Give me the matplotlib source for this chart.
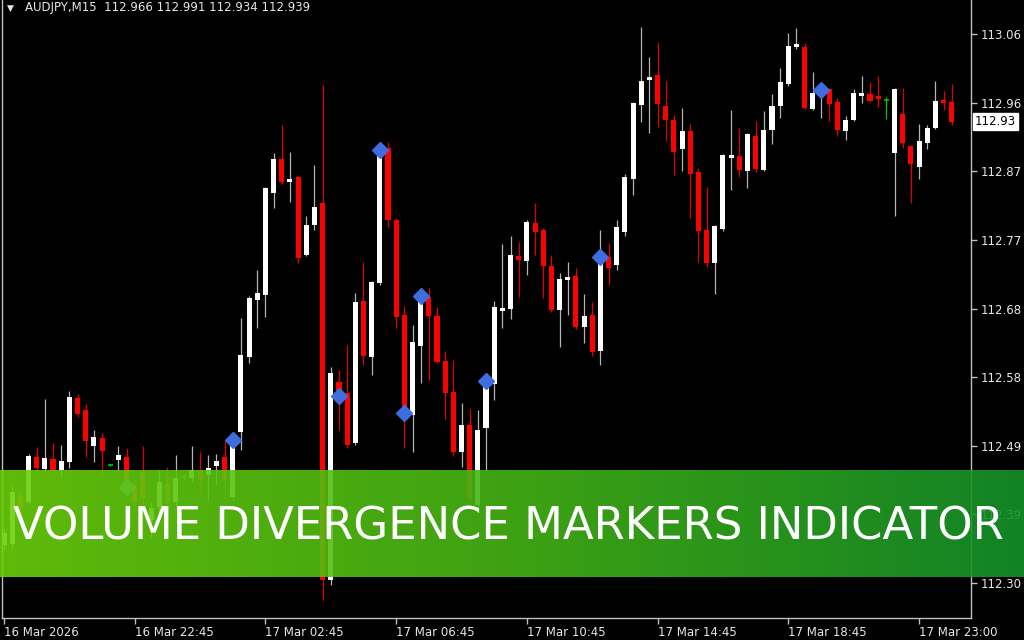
#!/usr/bin/env python3
"""
AUDJPY M15 candlestick chart with volume divergence markers,
styled like a MetaTrader window, with a title banner on top.
"""

import numpy as np
import matplotlib
matplotlib.use("Agg")
import matplotlib.pyplot as plt
import matplotlib.transforms as mtransforms
from matplotlib.colors import LinearSegmentedColormap

symbol = "AUDJPY,M15"

# OHLC per 15-minute bar
opens = [112.353, 112.354, 112.422, 112.412, 112.475, 112.458, 112.472, 112.457, 112.468, 112.556,
         112.540, 112.490, 112.501, 112.463, 112.470, 112.475, 112.436, 112.454, 112.387, 112.405,
         112.439, 112.412, 112.447, 112.445, 112.457, 112.450, 112.462, 112.475, 112.419, 112.509,
         112.613, 112.692, 112.699, 112.840, 112.887, 112.855, 112.862, 112.754, 112.796, 112.826,
         112.304, 112.578, 112.563, 112.494, 112.691, 112.613, 112.716, 112.902, 112.803, 112.671,
         112.533, 112.628, 112.696, 112.670, 112.607, 112.565, 112.481, 112.519, 112.408, 112.515,
         112.576, 112.677, 112.680, 112.753, 112.746, 112.799, 112.789, 112.739, 112.678, 112.720,
         112.725, 112.655, 112.671, 112.621, 112.752, 112.740, 112.786, 112.860, 112.962, 112.997,
         113.004, 112.961, 112.941, 112.901, 112.926, 112.869, 112.789, 112.743, 112.790, 112.889,
         112.891, 112.871, 112.919, 112.872, 112.927, 112.961, 112.991, 113.042, 113.042, 112.957,
         112.976, 112.984, 112.966, 112.926, 112.941, 112.975, 112.977, 112.975, 112.969, 112.896,
         112.950, 112.905, 112.876, 112.909, 112.930, 112.969, 112.966]
highs = [112.376, 112.436, 112.429, 112.479, 112.488, 112.555, 112.494, 112.491, 112.566, 112.562,
         112.548, 112.512, 112.508, 112.465, 112.490, 112.487, 112.443, 112.490, 112.412, 112.457,
         112.461, 112.477, 112.451, 112.490, 112.481, 112.477, 112.479, 112.498, 112.501, 112.667,
         112.698, 112.734, 112.849, 112.896, 112.934, 112.897, 112.864, 112.808, 112.879, 112.990,
         112.599, 112.595, 112.630, 112.702, 112.745, 112.718, 112.902, 112.911, 112.806, 112.684,
         112.657, 112.700, 112.709, 112.682, 112.621, 112.609, 112.549, 112.541, 112.540, 112.583,
         112.691, 112.770, 112.781, 112.772, 112.803, 112.826, 112.792, 112.754, 112.729, 112.745,
         112.736, 112.700, 112.689, 112.789, 112.771, 112.803, 112.866, 112.966, 113.070, 113.029,
         113.049, 112.995, 112.948, 112.958, 112.936, 112.875, 112.849, 112.796, 112.894, 112.955,
         112.930, 112.923, 112.940, 112.954, 112.977, 113.013, 113.062, 113.069, 113.048, 113.008,
         112.988, 112.986, 112.972, 112.947, 112.984, 113.002, 112.994, 113.002, 112.973, 112.986,
         112.986, 112.907, 112.936, 112.934, 112.995, 112.981, 112.991]
lows = [112.346, 112.348, 112.394, 112.409, 112.457, 112.455, 112.448, 112.447, 112.459, 112.530,
        112.475, 112.468, 112.448, 112.462, 112.457, 112.426, 112.407, 112.408, 112.364, 112.398,
        112.404, 112.407, 112.443, 112.440, 112.422, 112.415, 112.436, 112.429, 112.415, 112.484,
        112.605, 112.653, 112.668, 112.819, 112.853, 112.828, 112.743, 112.753, 112.789, 112.276,
        112.297, 112.512, 112.487, 112.491, 112.602, 112.588, 112.713, 112.793, 112.653, 112.487,
        112.481, 112.577, 112.581, 112.605, 112.527, 112.476, 112.461, 112.401, 112.398, 112.457,
        112.553, 112.653, 112.666, 112.696, 112.727, 112.754, 112.695, 112.675, 112.627, 112.671,
        112.652, 112.632, 112.614, 112.602, 112.713, 112.734, 112.781, 112.837, 112.939, 112.923,
        112.932, 112.912, 112.865, 112.871, 112.806, 112.745, 112.738, 112.700, 112.788, 112.844,
        112.862, 112.847, 112.869, 112.871, 112.908, 112.944, 112.988, 113.040, 112.957, 112.955,
        112.944, 112.940, 112.919, 112.914, 112.940, 112.965, 112.966, 112.959, 112.943, 112.808,
        112.902, 112.826, 112.860, 112.901, 112.929, 112.955, 112.934]
closes = [112.369, 112.426, 112.401, 112.476, 112.459, 112.473, 112.457, 112.469, 112.558, 112.534,
          112.497, 112.502, 112.483, 112.463, 112.477, 112.433, 112.412, 112.418, 112.404, 112.440,
          112.411, 112.445, 112.447, 112.457, 112.443, 112.459, 112.469, 112.443, 112.498, 112.616,
          112.695, 112.702, 112.847, 112.887, 112.855, 112.860, 112.750, 112.796, 112.821, 112.304,
          112.591, 112.559, 112.491, 112.689, 112.614, 112.717, 112.900, 112.803, 112.668, 112.535,
          112.634, 112.698, 112.670, 112.606, 112.563, 112.481, 112.519, 112.418, 112.512, 112.580,
          112.682, 112.681, 112.754, 112.747, 112.800, 112.786, 112.739, 112.678, 112.721, 112.724,
          112.655, 112.670, 112.620, 112.752, 112.736, 112.793, 112.862, 112.965, 112.995, 113.001,
          112.963, 112.941, 112.897, 112.926, 112.866, 112.788, 112.743, 112.794, 112.893, 112.893,
          112.872, 112.922, 112.873, 112.927, 112.961, 112.994, 113.044, 113.047, 112.958, 112.979,
          112.983, 112.963, 112.927, 112.941, 112.979, 112.979, 112.968, 112.970, 112.969, 112.984,
          112.909, 112.880, 112.912, 112.930, 112.968, 112.965, 112.939]

# bars flagged by the divergence indicator
marker_bars = [15, 28, 41, 46, 49, 51, 59, 73, 100]

time_tick_bars = [0, 16, 32, 48, 64, 80, 96, 112]
time_tick_labels = ["16 Mar 2026", "16 Mar 22:45", "17 Mar 02:45", "17 Mar 06:45",
                    "17 Mar 10:45", "17 Mar 14:45", "17 Mar 18:45", "17 Mar 23:00"]

price_ticks = [112.300, 112.395, 112.490, 112.585, 112.680, 112.775, 112.870, 112.965, 113.060]
price_tick_labels = ["112.30", "112.39", "112.49", "112.58", "112.68",
                     "112.77", "112.87", "112.96", "113.06"]

banner_text = "VOLUME DIVERGENCE MARKERS INDICATOR"

# colours
BULL = "#ffffff"
BULL_WICK = "#b4b4b4"
BEAR = "#ff0000"
BEAR_WICK = "#e00000"
DOJI = "#00c800"
MARKER = "#3f6de0"
FRAME = "#c0c0c0"
TEXT = "#e6e6e6"

W, H = 1024, 640
fig = plt.figure(figsize=(W / 100, H / 100), dpi=100, facecolor="black")
ax = fig.add_axes([2 / W, 22 / H, 969 / W, 618 / H], facecolor="black")

o = np.array(opens)
h = np.array(highs)
l = np.array(lows)
c = np.array(closes)
x = np.arange(len(o))
up = c > o
down = c < o
flat = c == o
body_w = 0.62

ax.vlines(x[up], l[up], h[up], color=BULL_WICK, lw=0.9, zorder=2)
ax.vlines(x[down], l[down], h[down], color=BEAR_WICK, lw=0.9, zorder=2)
ax.vlines(x[flat], l[flat], h[flat], color=DOJI, lw=0.9, zorder=2)
ax.bar(x[up], c[up] - o[up], bottom=o[up], width=body_w, color=BULL, lw=0, zorder=3)
ax.bar(x[down], o[down] - c[down], bottom=c[down], width=body_w, color=BEAR, lw=0, zorder=3)
ax.hlines(c[flat], x[flat] - body_w / 2, x[flat] + body_w / 2, color=DOJI, lw=1.2, zorder=3)

ax.plot(marker_bars, c[marker_bars], "D", color=MARKER, ms=8.5, mec=MARKER, zorder=5)

ax.set_xlim(-0.245, 118.36)
ax.set_ylim(112.2515, 113.1075)

# frame like the terminal window
for side in ["left", "right", "bottom"]:
    ax.spines[side].set_color(FRAME)
    ax.spines[side].set_linewidth(1)
ax.spines["top"].set_visible(False)

ax.yaxis.tick_right()
ax.set_yticks(price_ticks)
ax.set_yticklabels(price_tick_labels)
ax.tick_params(axis="y", colors=FRAME, labelcolor=TEXT, length=4, width=1,
               direction="out", pad=3, labelsize=8.5)

ax.set_xticks(time_tick_bars)
ax.set_xticklabels(time_tick_labels)
ax.tick_params(axis="x", colors=FRAME, labelcolor=TEXT, length=4, width=1,
               direction="out", pad=2, labelsize=8.5)
for lbl in ax.get_xticklabels():
    lbl.set_horizontalalignment("left")

# current price tag on the right scale
last = closes[-1]
tag = f"{int(last * 100) / 100:.2f}"
trans = mtransforms.blended_transform_factory(ax.transAxes, ax.transData)
ax.text(1.004, last, tag, transform=trans, ha="left", va="center", fontsize=8.5,
        color="black", bbox=dict(boxstyle="square,pad=0.15", fc="white", ec="white"),
        zorder=6, clip_on=False)

# header line
header = f"{symbol}  {opens[-1]:.3f} {highs[-1]:.3f} {lows[-1]:.3f} {closes[-1]:.3f}"
fig.text(7 / W, 1 - 8 / H, "\u25BC", color=TEXT, fontsize=6.5, va="center", ha="left")
fig.text(25 / W, 1 - 8 / H, header, color=TEXT, fontsize=8.5, va="center", ha="left")

# green title banner across the chart
green = LinearSegmentedColormap.from_list("banner", ["#6bd00b", "#45b515", "#15922a"])
bax = fig.add_axes([0, 63 / H, 1, 107 / H])
bax.imshow(np.linspace(0, 1, 256).reshape(1, -1), cmap=green, aspect="auto",
           extent=[0, 1, 0, 1], alpha=0.9)
bax.set_xlim(0, 1)
bax.set_ylim(0, 1)
bax.axis("off")

title = bax.text(0.496, 0.35, banner_text, color="white", fontsize=36,
                 family=["DejaVu Sans"], ha="center", va="baseline")
fig.canvas.draw()
width_px = title.get_window_extent().width
title.set_fontsize(36 * 993 / width_px)

fig.savefig("out.png", dpi=100, facecolor="black")
